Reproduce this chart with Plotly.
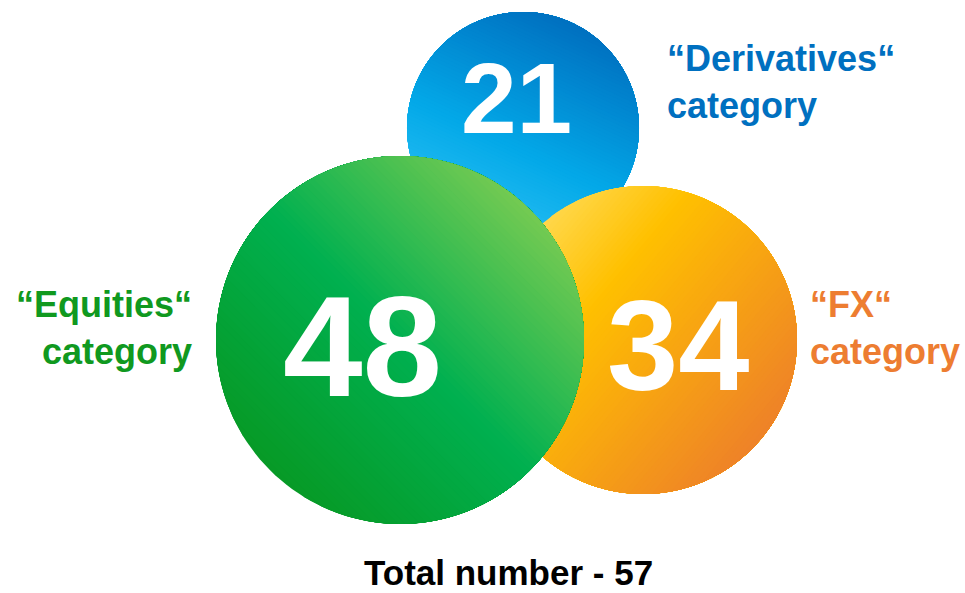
import numpy as np
import plotly.graph_objects as go

# data
categories = ["Derivatives", "FX", "Equities"]
counts = [21, 34, 48]
total_count = 57
label_texts = ["“Derivatives“<br>category", "“FX“<br>category", "“Equities“<br>category"]

# layout of the bubbles (pixel space, y down), drawn back to front
bubble_centers = [(523, 128), (643, 340), (400, 340)]
bubble_radii = [116, 154, 184]
number_pos = [(516, 98), (678, 345), (362, 346)]
number_sizes = [100, 128, 143]
label_pos = [(665, 82, "left"), (808, 328, "left"), (194, 328, "right")]
label_colors = ["#0070c0", "#ed7d31", "#10991f"]
# gradient direction (deg, towards last stop) and colour stops
gradients = [
    (-65, [(0.0, "#2cc0f4"), (0.4, "#03a9e8"), (1.0, "#0070c0")]),
    (40, [(0.0, "#ffd84c"), (0.3, "#ffc000"), (1.0, "#ee8228")]),
    (-45, [(0.0, "#079a26"), (0.5, "#00b050"), (1.0, "#74ca52")]),
]

FONT = "Arial, Liberation Sans, sans-serif"


def hex_rgb(h):
    h = h.lstrip("#")
    return [int(h[i:i + 2], 16) for i in (0, 2, 4)]


def pick_color(stops, f):
    for (f0, c0), (f1, c1) in zip(stops[:-1], stops[1:]):
        if f <= f1:
            w = (f - f0) / (f1 - f0) if f1 > f0 else 0
            a, b = hex_rgb(c0), hex_rgb(c1)
            rgb = [round(a[i] + (b[i] - a[i]) * w) for i in range(3)]
            return "rgb({},{},{})".format(*rgb)
    return stops[-1][1]


def gradient_disc(cx, cy, r, angle, stops, n=70):
    # stack of circular segments, each one overpainting the last -> linear gradient
    d = np.deg2rad(angle)
    out = []
    for k in range(n):
        t = -1 + 2 * k / n
        a = np.arccos(t)
        th = np.linspace(d - a, d + a, 160)
        out.append(go.Scatter(
            x=cx + r * np.cos(th), y=cy + r * np.sin(th),
            mode="lines", fill="toself", line=dict(width=0),
            fillcolor=pick_color(stops, (k + 0.5) / n),
            hoverinfo="skip", showlegend=False,
        ))
    return out


fig = go.Figure()
for (cx, cy), r, (ang, stops) in zip(bubble_centers, bubble_radii, gradients):
    fig.add_traces(gradient_disc(cx, cy, r, ang, stops))

for i, cat in enumerate(categories):
    nx, ny = number_pos[i]
    fig.add_annotation(x=nx, y=ny, text=str(counts[i]), showarrow=False,
                       xanchor="center", yanchor="middle",
                       font=dict(family=FONT, size=number_sizes[i], color="white", weight="bold"))
    lx, ly, al = label_pos[i]
    fig.add_annotation(x=lx, y=ly, text=label_texts[i], showarrow=False,
                       xanchor=al, yanchor="middle", align=al,
                       font=dict(family=FONT, size=36, color=label_colors[i], weight="bold"))

fig.add_annotation(x=508, y=593, text=f"Total number - {total_count}", showarrow=False,
                   xanchor="center", yanchor="bottom", borderpad=0,
                   font=dict(family=FONT, size=35, color="black", weight="bold"))

fig.update_layout(
    width=965, height=593, margin=dict(l=0, r=0, t=0, b=0),
    paper_bgcolor="white", plot_bgcolor="white",
    xaxis=dict(range=[0, 965], visible=False, fixedrange=True),
    yaxis=dict(range=[593, 0], visible=False, fixedrange=True),
    showlegend=False,
)

# page has an 8px body margin by default, drop it so the chart sits flush
fig.write_html("out.html", config={"displayModeBar": False},
               post_script="document.body.style.margin='0';")
